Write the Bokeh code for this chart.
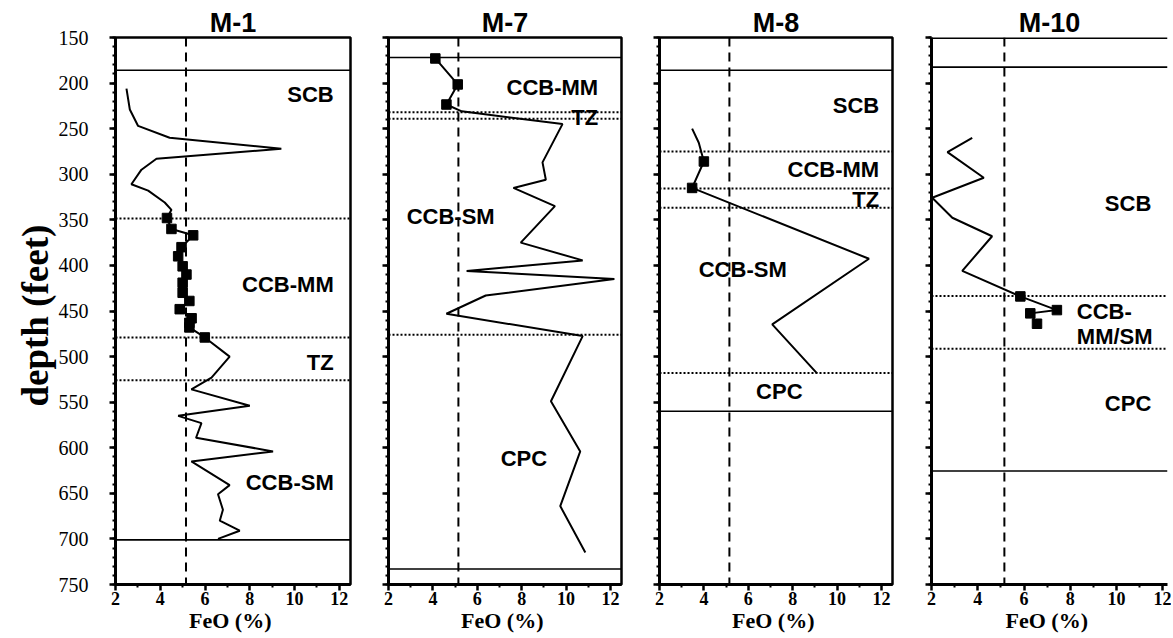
from bokeh.plotting import figure
from bokeh.models import Range1d, FixedTicker, Span, Label
from bokeh.layouts import row
from bokeh.embed import file_html
from bokeh.resources import INLINE

# ---------------- data ----------------
panel_names = ["M-1", "M-7", "M-8", "M-10"]
depth_ticks = [150, 200, 250, 300, 350, 400, 450, 500, 550, 600, 650, 700, 750]
feo_ticks = [2, 4, 6, 8, 10, 12]
reference_feo = 5.15

m1_depth = [206, 229, 247, 260, 272, 283, 295, 311, 318, 331, 339,
            348, 360, 367, 380, 390, 401, 410, 419, 430, 439, 448, 458, 463, 468, 479,
            500, 523, 536, 554, 565, 573, 589, 604, 615, 641, 651, 668, 680, 691, 700]
m1_feo = [2.49, 2.64, 3.01, 4.42, 9.41, 3.83, 3.16, 2.71, 3.46, 4.2, 4.5,
          4.3, 4.5, 5.47, 4.95, 4.8, 5.0, 5.17, 5.0, 5.0, 5.3, 4.87, 5.4, 5.3, 5.3, 5.99,
          7.1, 6.29, 5.39, 8.0, 4.8, 5.84, 5.6, 9.04, 5.39, 7.1, 6.58, 6.8, 6.66, 7.55, 6.58]
m1_sq_depth = [348, 360, 367, 380, 390, 401, 410, 419, 430, 439, 448, 458, 463, 468, 479]
m1_sq_feo = [4.3, 4.5, 5.47, 4.95, 4.8, 5.0, 5.17, 5.0, 5.0, 5.3, 4.87, 5.4, 5.3, 5.3, 5.99]
m1_solid = [186, 701]
m1_dotted = [348.5, 479, 526]

m7_depth = [173, 201.5, 223.5, 231, 245, 287, 306, 315, 335, 375, 394.5, 406, 415, 433, 453,
            477.5, 549, 604, 664, 715]
m7_feo = [4.11, 5.12, 4.61, 5.3, 9.84, 8.94, 9.09, 7.63, 9.5, 7.96, 10.75, 5.52, 12.18, 6.38, 4.61,
          10.75, 9.32, 10.64, 9.74, 10.87]
m7_sq_depth = [173, 201.5, 223.5]
m7_sq_feo = [4.11, 5.12, 4.61]
m7_solid = [172, 733]
m7_dotted = [232, 239, 476]

m8_depth = [250, 265.5, 286, 315, 392.7, 464.7, 518.4]
m8_feo = [3.47, 3.77, 4.0, 3.47, 11.44, 7.08, 9.1]
m8_sq_depth = [286, 315]
m8_sq_feo = [4.0, 3.47]
m8_solid = [186, 560]
m8_dotted = [275, 315.6, 336.7, 518]

m10_depth = [260, 275.7, 303.8, 325.8, 347.7, 368, 406, 434, 449, 452.6, 464]
m10_feo = [3.76, 2.69, 4.26, 2.03, 2.9, 4.62, 3.33, 5.84, 7.42, 6.27, 6.56]
m10_sq_depth = [434, 449, 452.6, 464]
m10_sq_feo = [5.84, 7.42, 6.27, 6.56]
m10_solid = [182.5, 625.5]
m10_dotted = [433.6, 491.4]

# zone labels: (text, feo, depth, align)
m1_zones = [("SCB", 11.75, 212, "right"), ("CCB-MM", 11.75, 421, "right"),
            ("TZ", 11.75, 507, "right"), ("CCB-SM", 11.75, 638, "right")]
m7_zones = [("CCB-MM", 11.45, 205, "right"), ("TZ", 11.45, 238, "right"),
            ("CCB-SM", 4.8, 346, "center"), ("CPC", 8.1, 612, "center")]
m8_zones = [("SCB", 11.9, 225, "right"), ("CCB-MM", 11.9, 295, "right"),
            ("TZ", 11.9, 328, "right"), ("CCB-SM", 5.75, 404, "center"),
            ("CPC", 7.4, 538, "center")]
m10_zones = [("SCB", 11.5, 332, "right"), ("CCB-", 8.28, 450, "left"),
             ("MM/SM", 8.28, 478, "left"), ("CPC", 11.5, 551, "right")]

SERIF = "Liberation Serif"
SANS = "Liberation Sans"


def make_panel(name, depth, feo, sq_depth, sq_feo, solid, dotted, zones,
               left_border, frame_w, x_end, first, right_border=5, outline=True):
    p = figure(frame_width=frame_w, frame_height=547,
               min_border_left=left_border, min_border_right=right_border,
               min_border_top=37, min_border_bottom=53,
               x_range=Range1d(2, x_end), y_range=Range1d(750, 150),
               output_backend="svg", toolbar_location=None, title=name)
    p.title.align = "center"
    p.title.text_font = SANS
    p.title.text_font_size = "27px"
    p.title.text_font_style = "bold"
    p.title.text_color = "black"
    p.title.standoff = 0
    p.title.offset = 0
    p.grid.visible = False
    p.background_fill_color = "white"
    p.border_fill_color = "white"
    if outline:
        p.outline_line_color = "black"
        p.outline_line_width = 2.5
        p.outline_line_alpha = 1
    else:
        p.outline_line_color = None
        p.add_layout(Span(location=150, dimension="width", line_color="black", line_width=3))

    p.xaxis.ticker = FixedTicker(ticks=feo_ticks, minor_ticks=[3, 5, 7, 9, 11])
    p.yaxis.ticker = FixedTicker(ticks=depth_ticks,
                                 minor_ticks=list(range(150, 751, 10)))
    for ax in (p.xaxis, p.yaxis):
        ax.axis_line_width = 3
        ax.axis_line_color = "black"
        ax.major_tick_line_color = "black"
        ax.minor_tick_line_color = "black"
        ax.major_tick_line_width = 2.5
        ax.major_tick_in = 0
        ax.major_tick_out = 6
        ax.minor_tick_line_width = 2
        ax.minor_tick_in = 0
        ax.minor_tick_out = 3
        ax.major_label_text_color = "black"
        ax.axis_label_text_color = "black"
    p.xaxis.major_label_text_font = SERIF
    p.xaxis.major_label_text_font_style = "bold"
    p.xaxis.major_label_text_font_size = "18px"
    p.xaxis.major_label_standoff = 1
    p.xaxis.axis_label = "FeO  (%)"
    p.xaxis.axis_label_text_font = SERIF
    p.xaxis.axis_label_text_font_style = "bold"
    p.xaxis.axis_label_text_font_size = "22px"
    p.xaxis.axis_label_standoff = 0
    if first:
        p.yaxis.major_label_text_font = SERIF
        p.yaxis.major_label_text_font_size = "20px"
        p.yaxis.major_label_standoff = 21
        p.yaxis.axis_label = "depth  (feet)"
        p.yaxis.axis_label_text_font = SERIF
        p.yaxis.axis_label_text_font_style = "bold"
        p.yaxis.axis_label_text_font_size = "37px"
        p.yaxis.axis_label_standoff = 0
    else:
        p.yaxis.major_label_overrides = {t: "" for t in depth_ticks}

    for d in solid:
        p.add_layout(Span(location=d, dimension="width", line_color="black", line_width=1.6))
    for d in dotted:
        p.add_layout(Span(location=d, dimension="width", line_color="black", line_width=2,
                          line_dash="2 2"))
    p.add_layout(Span(location=reference_feo, dimension="height", line_color="black",
                      line_width=2, line_dash="9 6"))

    p.line(feo, depth, line_color="black", line_width=2)
    p.scatter(sq_feo, sq_depth, marker="square", size=9.5, color="black")

    for text, x, y, align in zones:
        p.add_layout(Label(x=x, y=y, text=text, text_align=align, text_baseline="middle",
                           text_font=SANS, text_font_style="bold", text_font_size="22px",
                           text_color="black"))
    return p


f1 = make_panel(panel_names[0], m1_depth, m1_feo, m1_sq_depth, m1_sq_feo, m1_solid,
                m1_dotted, m1_zones, 115, 235, 12.5, True)
f2 = make_panel(panel_names[1], m7_depth, m7_feo, m7_sq_depth, m7_sq_feo, m7_solid,
                m7_dotted, m7_zones, 33, 233, 12.5, False)
f3 = make_panel(panel_names[2], m8_depth, m8_feo, m8_sq_depth, m8_sq_feo, m8_solid,
                m8_dotted, m8_zones, 33, 233, 12.5, False)
f4 = make_panel(panel_names[3], m10_depth, m10_feo, m10_sq_depth, m10_sq_feo, m10_solid,
                m10_dotted, m10_zones, 34, 236, 12.2, False, right_border=4, outline=False)

layout = row(f1, f2, f3, f4, spacing=0)
open("out.html", "w").write(file_html(layout, INLINE))
